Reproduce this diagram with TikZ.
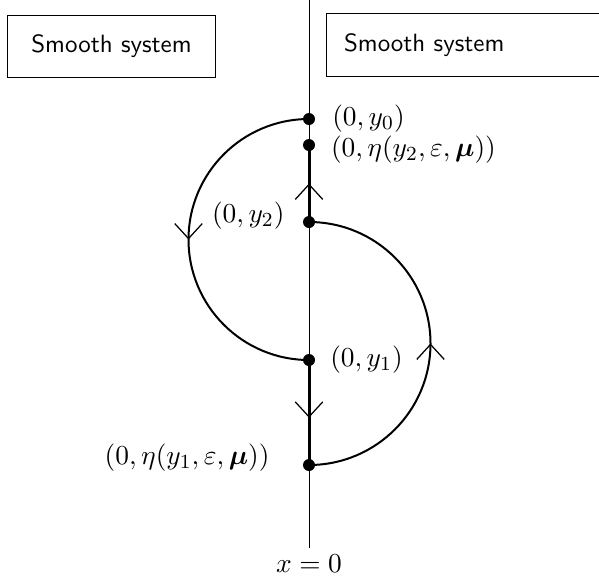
\documentclass[tikz,border=0pt]{standalone}
\usepackage{amsmath}
\usepackage{amssymb}
\usepackage{tikz}
\usetikzlibrary{arrows.meta,positioning,decorations.markings}

\begin{document}
\begin{tikzpicture}[
    x=0.4pt, y=-0.4pt,
    >={Straight Barb[length=6pt 0, width=11pt 0, line width'=0.5pt]},
    box/.style={
      draw, minimum height=25pt, font=\sffamily, inner xsep=7pt
    },
    dot/.style={
      circle, fill=black, inner sep=0pt, minimum size=4.8pt
    },
    pt/.style={font=\fontsize{11.1pt}{13.5pt}\selectfont, inner sep=2.5pt},
    midarr/.style={
      postaction={decorate},
      decoration={markings, mark=at position #1 with {\arrow{>}}}
    },
    orbit/.style={line width=0.8pt},
    slide/.style={line width=1.2pt}
  ]
    \useasboundingbox (0,0) rectangle (599,581);

    % Two regions
    \node[box, minimum width=82.8pt] (leftsys) at (111.5,46.5) {Smooth system};
    \node[box, anchor=west, text width=120pt, align=left] (rightsys) at (326,45) {Smooth system};

    % Switching line
    \coordinate (top) at (309,0);
    \node[pt] (xlab) at (309,564) {$x=0$};
    \draw[line width=0.4pt] (top) -- (xlab.north);

    % Points on the line
    \node[dot] (y0) at (309,119) {};
    \node[dot] (eta2) at (309,145) {};
    \node[dot] (y2) at (309,222) {};
    \node[dot] (y1) at (309,360) {};
    \node[dot] (eta1) at (309,465) {};

    \node[pt, right=4pt of y0] (ly0) {$(0,y_0)$};
    \node[pt, right=3.5pt of eta2, yshift=-2pt] (leta2) {$(0,\eta(y_2,\varepsilon,\boldsymbol{\mu}))$};
    \node[pt, left=4.5pt of y2, yshift=2.4pt] (ly2) {$(0,y_2)$};
    \node[pt, right=3.2pt of y1] (ly1) {$(0,y_1)$};
    \node[pt, left=10.5pt of eta1, yshift=2.8pt] (leta1) {$(0,\eta(y_1,\varepsilon,\boldsymbol{\mu}))$};

    % Orbits
    \draw[orbit, midarr=0.5] (y0.center) arc[start angle=270, end angle=90, radius=120.5];
    \draw[orbit, midarr=0.5] (eta1.center) arc[start angle=90, end angle=-90, radius=121.5];

    % Sliding segments
    \draw[slide, midarr=0.5] (y2.center) -- (eta2.center);
    \draw[slide, midarr=0.55] (y1.center) -- (eta1.center);
\end{tikzpicture}
\end{document}
